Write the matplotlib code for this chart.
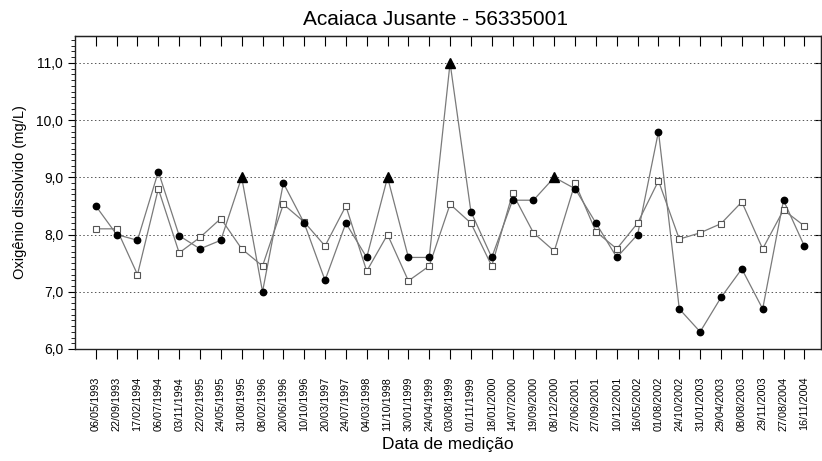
import numpy as np
import matplotlib
matplotlib.use("Agg")
import matplotlib.pyplot as plt
from matplotlib.ticker import MultipleLocator, FuncFormatter

plt.rcParams["font.family"] = ["Liberation Sans", "DejaVu Sans"]

datas = ["06/05/1993", "22/09/1993", "17/02/1994", "06/07/1994", "03/11/1994",
         "22/02/1995", "24/05/1995", "31/08/1995", "08/02/1996", "20/06/1996",
         "10/10/1996", "20/03/1997", "24/07/1997", "04/03/1998", "11/10/1998",
         "30/01/1999", "24/04/1999", "03/08/1999", "01/11/1999", "18/01/2000",
         "14/07/2000", "19/09/2000", "08/12/2000", "27/06/2001", "27/09/2001",
         "10/12/2001", "16/05/2002", "01/08/2002", "24/10/2002", "31/01/2003",
         "29/04/2003", "08/08/2003", "29/11/2003", "27/08/2004", "16/11/2004"]

# OD medido
od_medido = [8.5, 8.0, 7.9, 9.1, 7.98, 7.75, 7.9, 9.0, 7.0, 8.9,
             8.2, 7.2, 8.2, 7.6, 9.0, 7.6, 7.6, 11.0, 8.4, 7.6,
             8.6, 8.6, 9.0, 8.8, 8.2, 7.6, 8.0, 9.8, 6.7, 6.3,
             6.9, 7.4, 6.7, 8.6, 7.8]
# pontos destacados (triangulo)
destaque = [False, False, False, False, False, False, False, True, False, False,
            False, False, False, False, True, False, False, True, False, False,
            False, False, True, False, False, False, False, False, False, False,
            False, False, False, False, False]
# OD de referencia (quadrados)
od_ref = [8.1, 8.1, 7.3, 8.8, 7.68, 7.95, 8.28, 7.75, 7.45, 8.53,
          8.22, 7.8, 8.5, 7.36, 8.0, 7.19, 7.45, 8.53, 8.2, 7.45,
          8.72, 8.03, 7.71, 8.9, 8.05, 7.75, 8.2, 8.94, 7.92, 8.03,
          8.19, 8.57, 7.75, 8.43, 8.15]

x = np.arange(1, len(datas) + 1)
y1 = np.array(od_medido)
y2 = np.array(od_ref)
tri = np.array(destaque)

fig = plt.figure(figsize=(8.22, 4.61), dpi=100)
ax = fig.add_axes([0.0912, 0.2430, 0.9076, 0.6789])

ax.plot(x, y2, color="#7a7a7a", lw=0.9, marker="s", ms=4.6, mfc="white",
        mec="#555555", mew=0.8, zorder=3)
ax.plot(x, y1, color="#7a7a7a", lw=0.9, zorder=2)
ax.plot(x[~tri], y1[~tri], "o", color="black", ms=4.6, zorder=4)
ax.plot(x[tri], y1[tri], "^", color="black", ms=7, zorder=4)

ax.set_xlim(0, 35.8)
ax.set_ylim(6.0, 11.47)
ax.set_xticks(x)
ax.set_xticklabels(datas, rotation=90, fontsize=7.8)
ax.yaxis.set_major_locator(MultipleLocator(1.0))
ax.yaxis.set_minor_locator(MultipleLocator(0.1))
ax.yaxis.set_major_formatter(FuncFormatter(lambda v, p: f"{v:.1f}".replace(".", ",")))
ax.tick_params(axis="y", which="major", labelsize=10, length=5, direction="out")
ax.tick_params(axis="y", which="minor", length=3, direction="out")
ax.tick_params(axis="x", which="major", length=7, direction="out", pad=13)

for v in range(7, 12):
    ax.axhline(v, color="#555555", lw=0.7, ls=(0, (1.5, 2.5)), zorder=1)

for s in ax.spines.values():
    s.set_color("#222222")
    s.set_linewidth(1.0)

# ticks do topo e da direita para dentro
sec_top = ax.secondary_xaxis("top")
sec_top.set_xticks(x)
sec_top.tick_params(direction="in", length=7, labeltop=False)
sec_r = ax.secondary_yaxis("right")
sec_r.set_yticks(range(7, 12))
sec_r.tick_params(direction="in", length=5, labelright=False)

fig.text(0.530, 0.958, "Acaiaca Jusante - 56335001", fontsize=15,
         ha="center", va="center")
ax.set_xlabel("Data de medição", fontsize=12.5, labelpad=4)
ax.set_ylabel("Oxigênio dissolvido (mg/L)", fontsize=10.5, labelpad=7)

fig.savefig("out.png", dpi=100)
